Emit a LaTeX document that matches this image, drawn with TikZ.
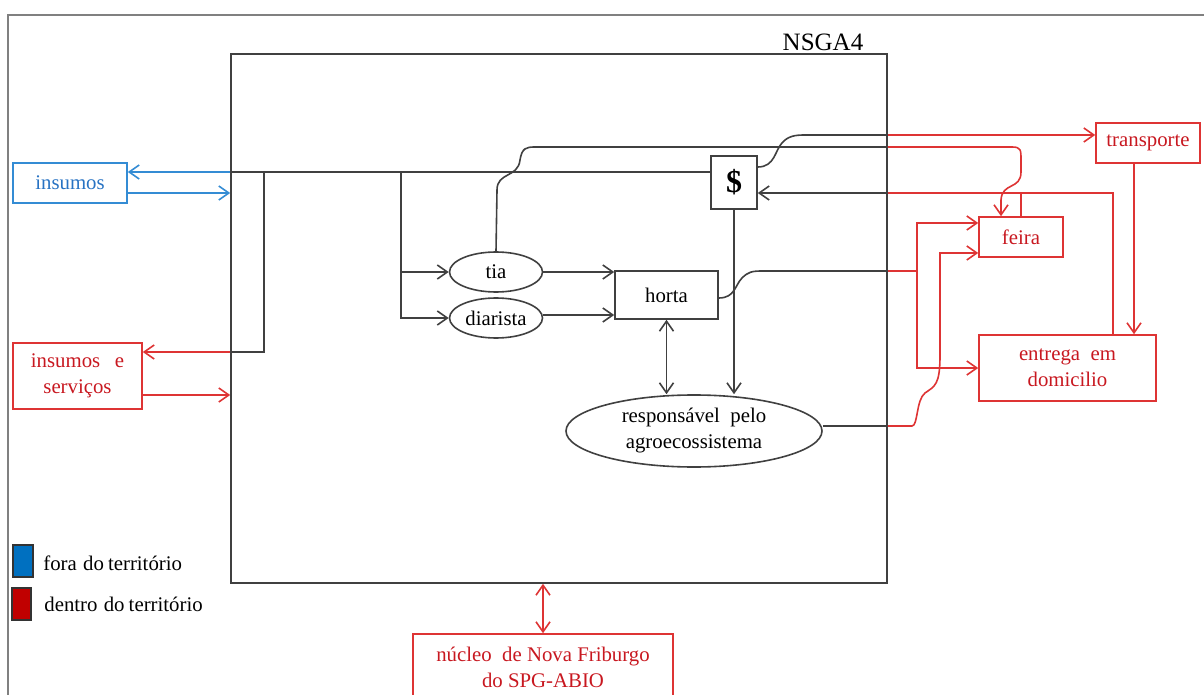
\documentclass[tikz,border=0pt]{standalone}
\usepackage{fontspec}
\setmainfont{Liberation Serif}
\usetikzlibrary{arrows.meta,calc,shapes.geometric}
\definecolor{bl}{RGB}{52,140,212}
\definecolor{blt}{RGB}{40,115,195}
\definecolor{rd}{RGB}{222,52,52}
\definecolor{rdt}{RGB}{200,24,32}
\definecolor{legb}{RGB}{0,112,192}
\definecolor{legr}{RGB}{192,0,0}
\begin{document}
\begin{tikzpicture}[x=0.5pt,y=-0.5pt,
  ln/.style={line width=0.8pt, draw=black!75},
  rl/.style={line width=0.8pt, draw=rd},
  bll/.style={line width=0.8pt, draw=bl},
  arr/.style={-{Straight Barb[length=5pt,width=7pt]}},
  darr/.style={{Straight Barb[length=5pt,width=7pt]}-{Straight Barb[length=5pt,width=7pt]}},
  txt/.style={font=\fontsize{10.4}{13}\selectfont, align=center},
  rbox/.style={txt, draw=rd, line width=0.8pt, text=rdt, inner sep=0pt},
  bbox/.style={txt, draw=bl, line width=0.8pt, text=blt, inner sep=0pt},
  kbox/.style={txt, draw=black!75, line width=0.8pt, inner sep=0pt},
  kell/.style={kbox, ellipse},
  legsq/.style={draw=black!80, line width=0.6pt, inner sep=0pt, minimum width=10pt, minimum height=16pt}
]
\useasboundingbox (0,0) rectangle (1204,695);
\clip (0,0) rectangle (1204,695);
% outer frame
\draw[black!50, line width=1.2pt] (8,720) -- (8,15) -- (1230,15);

% nodes
\node[kbox, minimum width=328pt, minimum height=264.5pt] (sys) at (559,318.5) {};
\node[txt, font=\fontsize{12.5}{15}\selectfont] (lab) at (823,42) {NSGA4};
\node[bbox, minimum width=57pt, minimum height=20pt] (ins) at (70,183) {insumos};
\node[rbox, minimum width=64.5pt, minimum height=33pt] (ies) at (77.5,376) {insumos\hspace{0.7em}e\\serviços};
\node[kell, minimum width=46.5pt, minimum height=20pt] (tia) at (496,272) {tia};
\node[kell, minimum width=46.5pt, minimum height=20pt] (dia) at (496,318) {diarista};
\node[kbox, minimum width=51.5pt, minimum height=24pt] (horta) at (666.5,295) {horta};
\node[kbox, minimum width=23pt, minimum height=26.5pt, font=\fontsize{16}{18}\selectfont\bfseries] (dol) at (734,182.5) {\$};
\node[kell, minimum width=128pt, minimum height=36pt] (resp) at (694,431) {responsável\hspace{0.5em}pelo\\agroecossistema};
\node[rbox, minimum width=52pt, minimum height=20pt] (tr) at (1148,143) {transporte};
\node[rbox, minimum width=42pt, minimum height=20pt] (fe) at (1021,237) {feira};
\node[rbox, minimum width=88.5pt, minimum height=33pt] (ent) at (1067.5,368) {entrega\hspace{0.5em}em\\domicilio};
\node[rbox, minimum width=130pt, minimum height=33pt] (nuc) at (543,667) {núcleo\hspace{0.5em}de Nova Friburgo\\do SPG-ABIO};

% legend
\node[legsq, fill=legb] (lb) at (23,561) {};
\node[legsq, fill=legr, minimum width=9.5pt] (lr) at (21.5,604) {};
\node[txt, anchor=west, inner sep=0pt] (lbt) at (43,563) {fora\hspace{0.3em}do\hspace{0.2em}território};
\node[txt, anchor=west, inner sep=0pt] (lrt) at (44,604) {dentro\hspace{0.3em}do\hspace{0.2em}território};

% insumos (blue)
\draw[bll,arr] (sys.west |- 0,172) -- (ins.east |- 0,172);
\draw[bll,arr] (ins.east |- 0,193) -- (sys.west |- 0,193);
% main black line
\draw[ln] (sys.west |- 0,172) -- (dol.west |- 0,172);
\draw[ln] (264,172) -- (264,352) -- (sys.west |- 0,352);
\draw[rl,arr] (sys.west |- 0,352) -- (ies.east |- 0,352);
\draw[rl,arr] (ies.east |- 0,395) -- (sys.west |- 0,395);
% to tia and diarista
\draw[ln,arr] (401,172) -- (401,318) -- (dia.west);
\draw[ln,arr] (401,272) -- (tia.west);
\draw[ln,arr] (tia.east) -- (horta.west |- tia.east);
\draw[ln,arr] (dia.east |- 0,315) -- (horta.west |- 0,315);
% tia to feira
\draw[ln] (tia.north) -- (497,190) .. controls (497,172) and (518,178) .. (520,160) .. controls (522,148) and (526,147) .. (535,147) -- (sys.east |- 0,147);
\draw[rl,arr] (sys.east |- 0,147) -- (1012,147) .. controls (1021,147) and (1021,150) .. (1021,160) -- (1021,172) .. controls (1021,190) and (1002,182) .. (1001,200) -- (fe.north -| 1001,0);
% $ to transporte
\draw[ln] (dol.east |- 0,167) .. controls (775,167) and (775,150) .. (782,143) .. controls (788,136) and (795,135) .. (805,135) -- (sys.east |- 0,135);
\draw[rl,arr] (sys.east |- 0,135) -- (tr.west |- 0,135);
\draw[rl,arr] (tr.south -| 1134,0) -- (ent.north -| 1134,0);
% entrega and feira to $
\draw[rl] (ent.north -| 1113,0) -- (1113,193) -- (sys.east |- 0,193);
\draw[ln,arr] (sys.east |- 0,193) -- (dol.east |- 0,193);
\draw[rl] (fe.north) -- (fe.north |- 0,193);
% horta to feira / entrega
\draw[ln] (horta.east |- 0,298) .. controls (735,298) and (735,285) .. (742,278) .. controls (748,272) and (752,271) .. (762,271) -- (sys.east |- 0,271);
\draw[rl] (sys.east |- 0,271) -- (917,271);
\draw[rl,arr] (917,271) -- (917,223) -- (fe.west |- 0,223);
\draw[rl,arr] (917,271) -- (917,368) -- (ent.west);
% responsavel to feira
\draw[ln] (resp.east |- 0,426) -- (sys.east |- 0,426);
\draw[rl,arr] (sys.east |- 0,426) -- (912,426) .. controls (918,426) and (916,400) .. (925,393) .. controls (935,386) and (940,385) .. (940,355) -- (940,253) -- (fe.west |- 0,253);
% $ and horta to responsavel
\draw[ln,arr] (dol.south) -- (dol.south |- resp.north);
\draw[ln,darr] (horta.south) -- (horta.south |- resp.north);
% nucleo
\draw[rl,darr] (sys.south -| nuc.north) -- (nuc.north);
\end{tikzpicture}
\end{document}
